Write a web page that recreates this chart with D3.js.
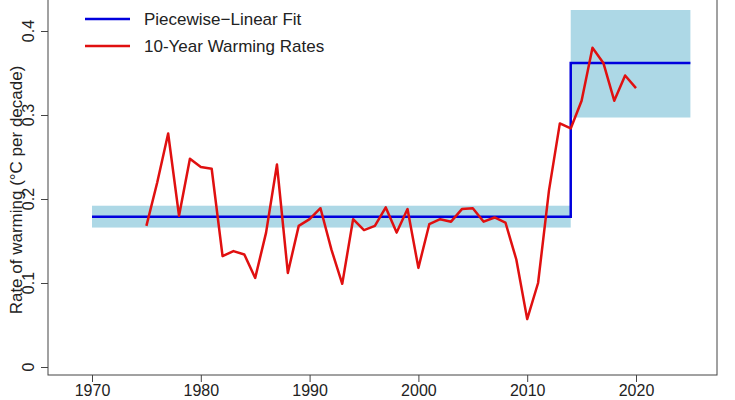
<!DOCTYPE html>
<html><head><meta charset="utf-8">
<script src="https://cdn.jsdelivr.net/npm/d3@7"></script>
<style>body{margin:0;background:#fff}</style>
</head><body><svg width="735" height="400"></svg>
<script>
const years = d3.range(1975, 2021);
const rates = [0.168,0.22,0.278,0.18,0.248,0.238,0.236,0.132,0.138,0.134,0.106,0.16,0.241,0.112,0.168,0.176,0.189,0.14,0.099,0.176,0.163,0.168,0.19,0.16,0.188,0.118,0.17,0.176,0.173,0.188,0.189,0.173,0.178,0.172,0.128,0.057,0.1,0.21,0.29,0.284,0.317,0.38,0.362,0.317,0.347,0.332];
const fitX = [1970, 2014, 2014, 2025];
const fitY = [0.179, 0.179, 0.362, 0.362];
const bands = [{x0:1970,x1:2014,lo:0.166,hi:0.192},{x0:2014,x1:2025,lo:0.297,hi:0.425}];
const xTicks = [1970,1980,1990,2000,2010,2020];
const yTicks = [0,0.1,0.2,0.3,0.4];

const svg = d3.select("svg");
const x = d3.scaleLinear().domain([1970,2020]).range([92,636]);
const y = d3.scaleLinear().domain([0,0.4]).range([367,31]);
const L = 48, R = 717, T = -2, B = 375;
const font = "'Liberation Sans', Arial, sans-serif";

svg.append("rect").attr("x",L).attr("y",T).attr("width",R-L).attr("height",B-T)
  .attr("fill","none").attr("stroke","#444").attr("stroke-width",1);

svg.selectAll(".band").data(bands).enter().append("rect")
  .attr("x",d=>x(d.x0)).attr("width",d=>x(d.x1)-x(d.x0))
  .attr("y",d=>y(d.hi)).attr("height",d=>y(d.lo)-y(d.hi)).attr("fill","#add8e6");

svg.append("path").datum(fitX.map((v,i)=>[v,fitY[i]]))
  .attr("d",d3.line().x(d=>x(d[0])).y(d=>y(d[1])))
  .attr("fill","none").attr("stroke","#0000dd").attr("stroke-width",2.5);

svg.append("path").datum(years.map((v,i)=>[v,rates[i]]))
  .attr("d",d3.line().x(d=>x(d[0])).y(d=>y(d[1])))
  .attr("fill","none").attr("stroke","#e01010").attr("stroke-width",2.5).attr("stroke-linejoin","round");

svg.append("g").attr("transform",`translate(0,${B})`)
  .call(d3.axisBottom(x).tickValues(xTicks).tickFormat(d3.format("d")).tickSize(7).tickPadding(3))
  .call(g=>g.select(".domain").remove())
  .call(g=>g.selectAll("text").attr("font-size",16).attr("font-family",font).attr("fill","#222"))
  .call(g=>g.selectAll("line").attr("stroke","#444"));

// left axis: ticks plus R-style rotated labels
const ya = svg.append("g").attr("transform",`translate(${L},0)`)
  .call(d3.axisLeft(y).tickValues(yTicks).tickSize(7).tickFormat(""))
  .call(g=>g.select(".domain").remove())
  .call(g=>g.selectAll("line").attr("stroke","#444"));
svg.selectAll(".ylab").data(yTicks).enter().append("text")
  .attr("transform",d=>`translate(${L-14},${y(d)}) rotate(-90)`)
  .attr("text-anchor","middle").attr("font-size",16).attr("font-family",font).attr("fill","#222")
  .text(d=>d===0?"0":d3.format(".1f")(d));

svg.append("text").attr("transform","rotate(-90)").attr("x",-190).attr("y",22)
  .attr("text-anchor","middle").attr("font-size",17).attr("font-family",font).attr("fill","#222")
  .text("Rate of warming (°C per decade)");

const legend = [{name:"Piecewise\u2212Linear Fit",c:"#0000dd"},{name:"10-Year Warming Rates",c:"#e01010"}];
const lg = svg.selectAll(".lg").data(legend).enter().append("g").attr("transform",(d,i)=>`translate(85,${19+i*27})`);
lg.append("line").attr("x1",0).attr("x2",45).attr("stroke",d=>d.c).attr("stroke-width",2.5);
lg.append("text").attr("x",59).attr("dy","0.35em").attr("font-size",17).attr("font-family",font).attr("fill","#222").text(d=>d.name);
</script></body></html>
